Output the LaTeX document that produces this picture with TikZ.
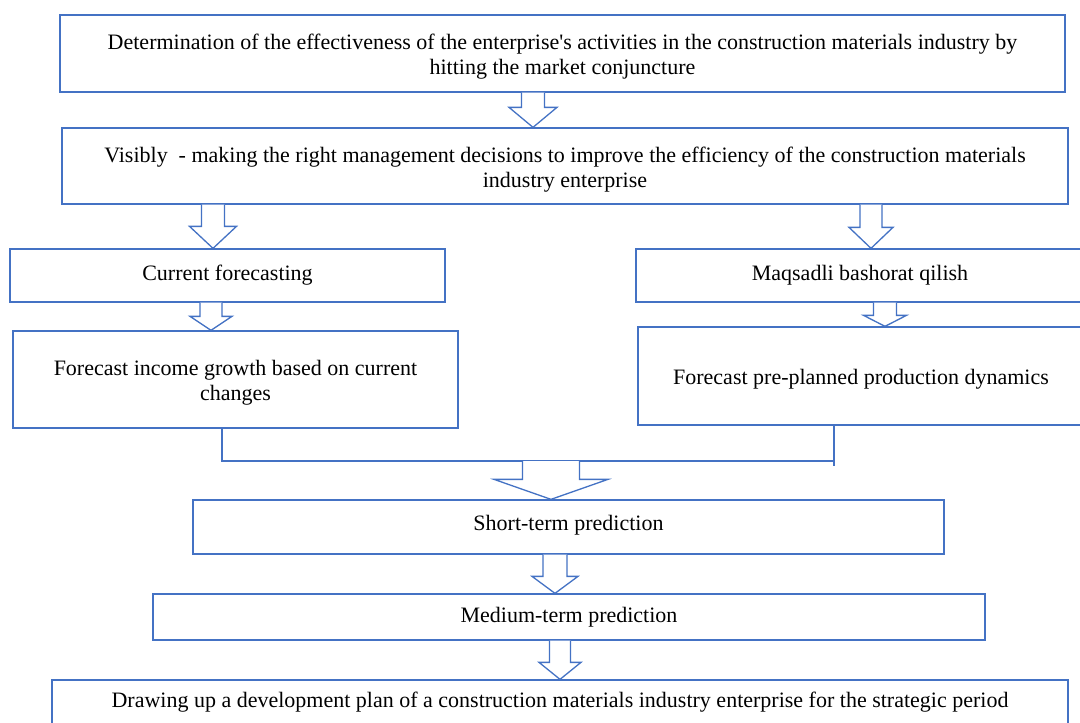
\documentclass[tikz,border=0pt]{standalone}
\usepackage{fontspec}
\setmainfont{Liberation Serif}
\usetikzlibrary{calc}
\definecolor{boxblue}{HTML}{4472C4}
\tikzset{
  box/.style={draw=boxblue, line width=1.3pt, inner sep=0pt},
  txt/.style={align=center, inner sep=0pt, font=\fontsize{22}{25}\selectfont, text=black},
  barrow/.style={draw=boxblue, line width=1.3pt, fill=white, line join=miter},
  conn/.style={draw=boxblue, line width=1.3pt}
}
% #1 x centre, #2 start, #3 end (tip), #4 half shaft, #5 half head, #6 head length
\newcommand\blockarrow[6]{%
  \draw[barrow] let \p1=(#2), \p2=(#3) in
    ({#1pt-#4pt},\y1) -- ({#1pt-#4pt},{\y2+#6pt}) -- ({#1pt-#5pt},{\y2+#6pt})
    -- ({#1pt},\y2) -- ({#1pt+#5pt},{\y2+#6pt}) -- ({#1pt+#4pt},{\y2+#6pt})
    -- ({#1pt+#4pt},\y1);}
\begin{document}
\begin{tikzpicture}[x=1pt,y=-1pt]
\useasboundingbox (0,0) rectangle (1080,723);
\clip (0,0) rectangle (1080,723);
\fill[white] (0,0) rectangle (1080,723);

\node[box, minimum width=1005pt, minimum height=77pt] (b1) at (562.5,53.5) {};
\node[txt, yshift=-3.5pt] (t1) at (b1.center)
  {Determination of the effectiveness of the enterprise\textquotesingle s activities in the construction materials industry by\\hitting the market conjuncture};
\node[box, minimum width=1006pt, minimum height=76pt] (b2) at (565,166) {};
\node[txt, yshift=-3.5pt] (t2) at (b2.center)
  {Visibly\ \ - making the right management decisions to improve the efficiency of the construction materials\\industry enterprise};
\node[box, minimum width=435pt, minimum height=53pt] (b3l) at (227.5,275.5) {};
\node[txt] (t3l) at (b3l.center) {Current forecasting};
\node[box, minimum width=448pt, minimum height=53pt] (b3r) at (860,275.5) {};
\node[txt] (t3r) at (b3r.center) {Maqsadli bashorat qilish};
\node[box, minimum width=445pt, minimum height=97pt] (b4l) at (235.5,379.5) {};
\node[txt, yshift=-3pt] (t4l) at (b4l.center)
  {Forecast income growth based on current\\changes};
\node[box, minimum width=446pt, minimum height=98pt] (b4r) at (861,376) {};
\node[txt, yshift=-3.5pt] (t4r) at (b4r.center) {Forecast pre-planned production dynamics};
\node[box, minimum width=751pt, minimum height=54pt] (b5) at (568.5,527) {};
\node[txt, yshift=2pt] (t5) at (b5.center) {Short-term prediction};
\node[box, minimum width=832pt, minimum height=46pt] (b6) at (569,617) {};
\node[txt] (t6) at (b6.center) {Medium-term prediction};
\node[box, minimum width=1016pt, minimum height=44pt] (b7) at (560,702) {};
\node[txt] (t7) at (b7.center)
  {Drawing up a development plan of a construction materials industry enterprise for the strategic period};

\coordinate (cl) at (222,461);
\coordinate (cr) at (834,461);
\coordinate (cm) at (551,461);
\draw[conn] (b4l.south -| cl) -- (cl) -- (cr);
\draw[conn] (b4r.south -| cr) -- ($(cr)+(0,5)$);

\blockarrow{533}{b1.south}{b2.north}{11.5}{24}{20}
\blockarrow{213}{b2.south}{b3l.north}{11.5}{23.5}{22}
\blockarrow{871}{b2.south}{b3r.north}{11}{22}{21}
\blockarrow{211}{b3l.south}{b4l.north}{11}{21}{14}
\blockarrow{885}{b3r.south}{b4r.north}{11.5}{21.5}{11}
\blockarrow{551}{cm}{b5.north}{28.5}{57}{20}
\blockarrow{555}{b5.south}{b6.north}{12}{23}{17}
\blockarrow{560}{b6.south}{b7.north}{10.5}{21}{17}
\end{tikzpicture}
\end{document}
